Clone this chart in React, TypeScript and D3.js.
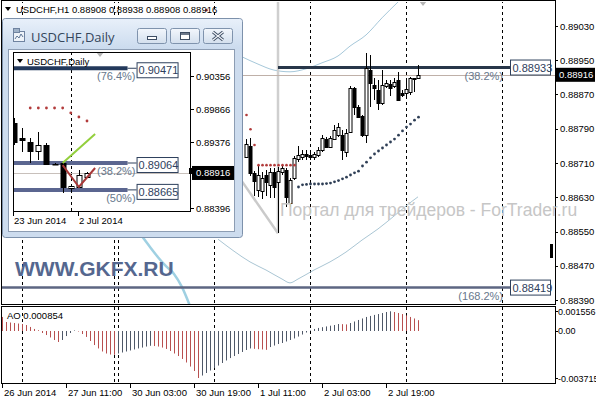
import React from 'react';
import * as d3 from 'd3';

const FONT = '"Liberation Sans", Arial, sans-serif';

// ---------- USDCHF H1 (bar 0 = first bar right of the Daily window, 4px per bar) ----------
const h1Open = [0.88724, 0.8875, 0.88687, 0.88647, 0.88645, 0.88682, 0.88659, 0.88689, 0.88666, 0.88689, 0.88694, 0.88617, 0.88675, 0.88719, 0.88724, 0.88731, 0.88729, 0.88724, 0.88729, 0.8874, 0.88766, 0.88747, 0.88766, 0.88775, 0.88775, 0.88736, 0.88782, 0.88885, 0.88841, 0.8882, 0.88775, 0.88927, 0.88892, 0.8888, 0.8885, 0.8889, 0.88895, 0.8889, 0.88904, 0.88873, 0.88873, 0.88876, 0.88906, 0.88908];
const h1High = [0.88766, 0.88768, 0.88692, 0.88705, 0.88689, 0.88694, 0.88698, 0.88698, 0.88701, 0.88705, 0.88698, 0.88675, 0.88726, 0.8875, 0.8874, 0.8874, 0.88736, 0.88736, 0.88747, 0.88775, 0.88771, 0.88773, 0.88799, 0.88803, 0.88787, 0.88789, 0.8889, 0.88887, 0.88845, 0.88822, 0.88967, 0.88962, 0.88909, 0.88904, 0.88927, 0.88904, 0.88904, 0.88909, 0.88922, 0.8888, 0.88904, 0.88911, 0.88909, 0.88938];
const h1Low = [0.88722, 0.8868, 0.88633, 0.88631, 0.88626, 0.88633, 0.88628, 0.88628, 0.88546, 0.88682, 0.88607, 0.88607, 0.8867, 0.88712, 0.88717, 0.88717, 0.88717, 0.88717, 0.88724, 0.88736, 0.88745, 0.88745, 0.88764, 0.88771, 0.88717, 0.88724, 0.8878, 0.88822, 0.88815, 0.88771, 0.88757, 0.88841, 0.88857, 0.88834, 0.88845, 0.88885, 0.88866, 0.88885, 0.88857, 0.88864, 0.88861, 0.88869, 0.88876, 0.88908];
const h1Close = [0.88754, 0.88687, 0.88668, 0.88682, 0.88675, 0.88666, 0.88689, 0.88654, 0.88691, 0.88698, 0.88631, 0.8867, 0.88722, 0.88729, 0.88731, 0.88726, 0.88724, 0.88731, 0.8874, 0.88768, 0.88747, 0.88768, 0.88787, 0.88794, 0.8874, 0.8878, 0.88885, 0.88841, 0.88817, 0.88775, 0.88932, 0.88897, 0.88885, 0.8885, 0.88892, 0.88897, 0.88885, 0.88899, 0.88857, 0.88869, 0.88883, 0.88909, 0.88909, 0.88916];

// Parabolic SAR
const sarUpBars = [-10, 0, 1, 2, 3, 4, 5, 6, 7, 8, 9, 10, 11, 12];
const sarUpVals = [0.89067, 0.88822, 0.88789, 0.88752, 0.88705, 0.88705, 0.88705, 0.88705, 0.88705, 0.88705, 0.88705, 0.88705, 0.88705, 0.88705];
const sarDownFirstBar = 13;
const sarDownVals = [0.88654, 0.88659, 0.8866, 0.88661, 0.88661, 0.88661, 0.88661, 0.88662, 0.88663, 0.88666, 0.88669, 0.88673, 0.88677, 0.88682, 0.88687, 0.88691, 0.88703, 0.88712, 0.88722, 0.88731, 0.88738, 0.88745, 0.88752, 0.88759, 0.88766, 0.88775, 0.88785, 0.88794, 0.88801, 0.8881, 0.88817];

// Bollinger envelope samples (bar, price)
const upperBandBars = [-1, 3, 7, 11, 15, 19, 23, 26, 30, 34, 38, 42];
const upperBandVals = [0.88958, 0.88941, 0.88927, 0.88923, 0.8893, 0.88944, 0.8896, 0.88983, 0.89009, 0.89049, 0.89086, 0.89121];
const lowerBandBars = [-7, -3, 1, 5, 9, 11, 13, 17, 21, 25, 29, 33, 37, 41, 43];
const lowerBandVals = [0.88532, 0.88504, 0.88479, 0.8846, 0.88439, 0.8843, 0.88439, 0.8846, 0.88479, 0.88502, 0.8853, 0.88556, 0.88586, 0.88617, 0.88631];
const maBars = [-26, -24, -22, -20, -18, -16, -14];
const maVals = [0.88539, 0.88514, 0.8849, 0.88469, 0.88451, 0.8842, 0.88376];

// Fibonacci expansion objects
const fibTrendBars = [-1, 8];
const fibTrendVals = [0.88667, 0.88546];
const fibLevels = [0.88933, 0.88419];
const fibLevelText = ['(38.2%)', '(168.2%)'];
const fibLevelFrom = [8, -62];
const fibLevelTo = 66;

// Period separators (bar index)
const separators = [-56, -33, -32, -8, 16, 40, 64];

// Axis labels
const priceTicks = [0.8903, 0.8895, 0.8887, 0.8879, 0.8871, 0.8863, 0.8855, 0.8847, 0.8839];
const bid = 0.88916;
const timeTickBars = [-61, -45, -29, -13, 3, 19, 35];
const timeTickLabels = ['26 Jun 2014', '27 Jun 11:00', '30 Jun 03:00', '30 Jun 19:00', '1 Jul 11:00', '2 Jul 03:00', '2 Jul 19:00'];

// Awesome Oscillator, first value at bar -61
const aoFirstBar = -61;
const aoVals = [0.00111, 0.00071, 0.00067, 0.00063, 0.00059, 0.00055, 0.00047, 0.00032, 0.00016, 0.00006, -0.00016, -0.00032, -0.00051, -0.00071, -0.00087, -0.00071, -0.0004, -0.00016, 0.00004, -0.00004, -0.00024, -0.00047, -0.00079, -0.00111, -0.00138, -0.00162, -0.00178, -0.00186, -0.00188, -0.00178, -0.0017, -0.00162, -0.00154, -0.00146, -0.00138, -0.00131, -0.00123, -0.00117, -0.00119, -0.00123, -0.00131, -0.00142, -0.00158, -0.00178, -0.00198, -0.00221, -0.00249, -0.00281, -0.00316, -0.003715, -0.00352, -0.00332, -0.00312, -0.00293, -0.00273, -0.00253, -0.00233, -0.00214, -0.00198, -0.00182, -0.00166, -0.0015, -0.00138, -0.00141, -0.00144, -0.00146, -0.00149, -0.00127, -0.00115, -0.00103, -0.00095, -0.00083, -0.00071, -0.00059, -0.00044, -0.00028, -0.00012, 0.00004, 0.00016, 0.00024, 0.0003, 0.00036, 0.00042, 0.00047, 0.00055, 0.00054, 0.00052, 0.00063, 0.00075, 0.00087, 0.00099, 0.00111, 0.00119, 0.00127, 0.00134, 0.00142, 0.0015, 0.001556, 0.0015, 0.00142, 0.00134, 0.00123, 0.00111, 0.00099, 0.000854];
const aoTicks = [0.001556, 0, -0.003715];
const aoTickLabels = ['0.001556', '0.00', '-0.003715'];

// ---------- USDCHF Daily ----------
const dOpen = [0.89658, 0.89435, 0.89376, 0.89242, 0.89331, 0.89049, 0.89064, 0.88693, 0.88708, 0.88856];
const dHigh = [0.89732, 0.89584, 0.89435, 0.89525, 0.89361, 0.89064, 0.89079, 0.88723, 0.8896, 0.88931];
const dLow = [0.89331, 0.89228, 0.89064, 0.89109, 0.89034, 0.89034, 0.88619, 0.88619, 0.88693, 0.88841];
const dClose = [0.89376, 0.89406, 0.89242, 0.89331, 0.89049, 0.89049, 0.88708, 0.88723, 0.88886, 0.88916];
const dSarBars = [2, 3, 4, 5, 6, 7, 8, 9];
const dSarVals = [0.89881, 0.89881, 0.89881, 0.89881, 0.89881, 0.89807, 0.89747, 0.89688];
const dPriceTicks = [0.90356, 0.89866, 0.89376, 0.88396];
const dFibLevels = [0.90471, 0.89064, 0.88665];
const dFibText = ['(76.4%)', '(38.2%)', '(50%)'];
const dFibColors = ['#23395b', '#5b6690', '#5b6690'];
const dFibTo = 14;
const dGreenBars = [6, 10];
const dGreenVals = [0.89064, 0.89495];
const dRedBars = [6, 8, 10];
const dRedVals = [0.89034, 0.88708, 0.8899];
const dSeparator = 7;
const dTimeBars = [0, 8];
const dTimeLabels = ['23 Jun 2014', '2 Jul 2014'];

const UP_AO = '#4f5868';
const DOWN_AO = '#b85050';

export default function App() {
  const x = d3.scaleLinear().domain([0, 43]).range([246, 418]);
  const y = d3.scaleLinear().domain([0.8839, 0.8903]).range([300, 26]);
  const yAO = d3.scaleLinear().domain([-0.003715, 0.001556]).range([378, 311.3]);
  const xd = d3.scaleLinear().domain([0, 9]).range([14, 87]);
  const yd = d3.scaleLinear().domain([0.88396, 0.90356]).range([208, 76]);

  const curve = d3.line<[number, number]>().x(d => x(d[0])).y(d => y(d[1])).curve(d3.curveMonotoneX);
  const pairs = (a: number[], b: number[]) => a.map((v, i) => [v, b[i]] as [number, number]);
  const dLine = d3.line<[number, number]>().x(d => xd(d[0])).y(d => yd(d[1]));

  const small = { fontFamily: FONT, fontSize: 9.5 } as const;

  return (
    <svg width={596} height={400} style={{ position: 'absolute', left: 0, top: 0, background: '#fff' }}>
      <defs>
        <clipPath id="mainClip"><rect x={2} y={2} width={553} height={302} /></clipPath>
        <clipPath id="aoClip"><rect x={2} y={307} width={553} height={76} /></clipPath>
        <clipPath id="dClip"><rect x={13} y={52} width={178} height={160} /></clipPath>
        <linearGradient id="titleGrad" x1="0" y1="0" x2="0" y2="1">
          <stop offset="0" stopColor="#e8f0fa" />
          <stop offset="1" stopColor="#cbdbee" />
        </linearGradient>
        <linearGradient id="btnGrad" x1="0" y1="0" x2="0" y2="1">
          <stop offset="0" stopColor="#f3f7fc" />
          <stop offset="1" stopColor="#d3dfed" />
        </linearGradient>
      </defs>
      <rect x={0} y={0} width={596} height={400} fill="#fff" />

      {/* ---------- price pane ---------- */}
      <g clipPath="url(#mainClip)">
        {separators.map((b, i) => (
          <line key={i} x1={Math.round(x(b)) + 0.5} x2={Math.round(x(b)) + 0.5} y1={0} y2={306} stroke="#000" strokeDasharray="3,3" />
        ))}
        <path d={curve(pairs(upperBandBars, upperBandVals)) || ''} fill="none" stroke="#a6c8da" strokeWidth={1} />
        <path d={curve(pairs(lowerBandBars, lowerBandVals)) || ''} fill="none" stroke="#aac6d4" strokeWidth={1} />
        <path d={curve(pairs(maBars, maVals)) || ''} fill="none" stroke="#9fd0e2" strokeWidth={2.5} />
        {/* fib expansion trend lines */}
        <line x1={x(fibTrendBars[0])} y1={y(fibTrendVals[0])} x2={x(fibTrendBars[1])} y2={y(fibTrendVals[1])} stroke="#cacaca" strokeWidth={2.5} />
        <line x1={x(fibTrendBars[1])} y1={y(fibTrendVals[1])} x2={x(fibTrendBars[1])} y2={0} stroke="#cfcfcf" strokeWidth={2.5} />
        {/* bid line */}
        <line x1={0} x2={555} y1={Math.round(y(bid)) + 0.5} y2={Math.round(y(bid)) + 0.5} stroke="#bfb0a8" strokeWidth={1} />
        {/* fib levels */}
        {fibLevels.map((lv, i) => {
          const yy = y(lv);
          const x0 = x(fibLevelFrom[i]);
          const x1 = x(fibLevelTo);
          return (
            <g key={i}>
              <line x1={x0} x2={x1} y1={yy} y2={yy} stroke={i === 0 ? '#273649' : '#5d6682'} strokeWidth={i === 0 ? 3 : 2.5} />
              <rect x={x1 + 0.5} y={yy - 7.5} width={40} height={15} fill="#fff" stroke="#2e405c" strokeWidth={1} />
              <text x={x1 + 2.5} y={yy + 4} fill="#2e405c" style={{ fontFamily: FONT, fontSize: 11 }}>{lv.toFixed(5)}</text>
              <text x={x1 - 7} y={yy + 12} textAnchor="end" fill="#67778c" style={{ fontFamily: FONT, fontSize: 11 }}>{fibLevelText[i]}</text>
            </g>
          );
        })}
        {/* candles */}
        {h1Open.map((o, i) => {
          const c = h1Close[i];
          const cx = Math.round(x(i)) + 0.5;
          const top = Math.round(y(Math.max(o, c)));
          const bot = Math.round(y(Math.min(o, c)));
          return (
            <g key={i}>
              <line x1={cx} x2={cx} y1={Math.round(y(h1High[i]))} y2={Math.round(y(h1Low[i]))} stroke="#000" />
              <rect x={cx - 1.5} y={top + 0.5} width={3} height={Math.max(bot - top, 0.5)} fill={c >= o ? '#fff' : '#000'} stroke="#000" strokeWidth={1} />
            </g>
          );
        })}
        {sarUpBars.map((b, i) => (
          <circle key={'u' + i} cx={x(b) + 0.5} cy={y(sarUpVals[i])} r={1.3} fill="#b23b3b" />
        ))}
        {sarDownVals.map((v, i) => (
          <circle key={'d' + i} cx={x(sarDownFirstBar + i) + 0.5} cy={y(v)} r={1.4} fill="#2e3e55" />
        ))}
        <path d="M419,1 L427,1 L423,6 Z" fill="#b5b5b5" />
        <rect x={550} y={244} width={3} height={14} fill="#000" />
        <text x={15} y={276} fill="#55678f" style={{ fontFamily: FONT, fontSize: 21, fontWeight: 700 }}>WWW.GKFX.RU</text>
      </g>

      {/* header */}
      <path d="M5,7 L11,7 L8,11 Z" fill="#000" />
      <text x={16} y={13} style={small}>USDCHF,H1  0.88908 0.88938 0.88908 0.88916</text>

      {/* pane frames */}
      <rect x={1.5} y={0.5} width={554} height={304} fill="none" stroke="#000" />
      <rect x={1.5} y={306.5} width={554} height={77} fill="none" stroke="#000" />

      {/* price axis */}
      {priceTicks.map((p, i) => (
        <g key={i}>
          <line x1={555} x2={558} y1={Math.round(y(p)) + 0.5} y2={Math.round(y(p)) + 0.5} stroke="#000" />
          <text x={560} y={y(p) + 3.5} style={small}>{p.toFixed(5)}</text>
        </g>
      ))}
      <rect x={556} y={y(bid) - 7} width={39} height={14} fill="#000" />
      <text x={559} y={y(bid) + 3.5} fill="#fff" style={small}>{bid.toFixed(5)}</text>

      {/* ---------- AO pane ---------- */}
      <g clipPath="url(#aoClip)">
        {separators.map((b, i) => (
          <line key={i} x1={Math.round(x(b)) + 0.5} x2={Math.round(x(b)) + 0.5} y1={307} y2={384} stroke="#000" strokeDasharray="3,3" />
        ))}
        {aoVals.map((v, k) => {
          const cx = Math.round(x(aoFirstBar + k)) + 0.5;
          const up = k > 0 && v > aoVals[k - 1];
          return <line key={k} x1={cx} x2={cx} y1={yAO(0)} y2={yAO(v)} stroke={up ? UP_AO : DOWN_AO} strokeWidth={1} />;
        })}
      </g>
      <text x={7} y={319} style={small}>AO 0.000854</text>
      {aoTicks.map((t, i) => (
        <g key={i}>
          <line x1={555} x2={558} y1={Math.round(yAO(t)) + 0.5} y2={Math.round(yAO(t)) + 0.5} stroke="#000" />
          <text x={558} y={yAO(t) + 3.5} style={{ fontFamily: FONT, fontSize: 9 }}>{aoTickLabels[i]}</text>
        </g>
      ))}

      {/* time axis */}
      {timeTickBars.map((b, i) => (
        <g key={i}>
          <line x1={Math.round(x(b)) + 0.5} x2={Math.round(x(b)) + 0.5} y1={384} y2={388} stroke="#000" />
          <text x={x(b) + 2} y={396} style={small}>{timeTickLabels[i]}</text>
        </g>
      ))}

      {/* watermark */}
      <text x={280} y={216} fill="#c6c6c6" style={{ fontFamily: FONT, fontSize: 17.5 }}>Портал для трейдеров - ForTrader.ru</text>

      {/* ---------- Daily window ---------- */}
      <g>
        <rect x={2.5} y={18.5} width={240} height={219} rx={3} fill="#cddcee" stroke="#7d91ab" />
        <rect x={3} y={19} width={239} height={30} rx={3} fill="url(#titleGrad)" />
        {/* icon */}
        <rect x={13.5} y={31.5} width={11} height={10} fill="#eef3f9" stroke="#6f83a0" />
        <rect x={13.5} y={28.5} width={6} height={4} fill="#9fb2c8" stroke="#6f83a0" />
        <path d="M15,39 L17,36 L19,38 L21,34 L23,37" fill="none" stroke="#5f7796" strokeWidth={1} />
        <text x={31} y={42} fill="#34465c" style={{ fontFamily: '"Open Sans", "Noto Sans", sans-serif', fontSize: 13 }}>USDCHF,Daily</text>
        {[137, 170, 203].map((bx, i) => (
          <rect key={i} x={bx + 0.5} y={28.5} width={29} height={15} rx={2} fill="url(#btnGrad)" stroke="#7f93ad" />
        ))}
        <rect x={147.5} y={36.5} width={9} height={3} fill="#fff" stroke="#3d4d63" />
        <rect x={180.5} y={32.5} width={9} height={7} fill="#fff" stroke="#3d4d63" strokeWidth={1} />
        <line x1={180.5} x2={189.5} y1={34} y2={34} stroke="#3d4d63" strokeWidth={1.5} />
        <path d="M213,32 L223,40 M223,32 L213,40" stroke="#3d4d63" strokeWidth={3} />
        <path d="M213,32 L223,40 M223,32 L213,40" stroke="#f4f7fb" strokeWidth={1.2} />

        <rect x={8.5} y={49.5} width={226} height={182} fill="#fff" stroke="#8d9db3" />

        <g clipPath="url(#dClip)">
          <line x1={Math.round(xd(dSeparator)) + 0.5} x2={Math.round(xd(dSeparator)) + 0.5} y1={52} y2={212} stroke="#000" strokeDasharray="3,3" />
          <line x1={13} x2={191} y1={Math.round(yd(bid)) + 0.5} y2={Math.round(yd(bid)) + 0.5} stroke="#c8c0bb" />
          {dFibLevels.map((lv, i) => (
            <line key={i} x1={13} x2={xd(dFibTo)} y1={yd(lv)} y2={yd(lv)} stroke={dFibColors[i]} strokeWidth={4} />
          ))}
          {dOpen.map((o, i) => {
            const c = dClose[i];
            const cx = Math.round(xd(i)) + 0.5;
            const top = Math.round(yd(Math.max(o, c)));
            const bot = Math.round(yd(Math.min(o, c)));
            return (
              <g key={i}>
                <line x1={cx} x2={cx} y1={Math.round(yd(dHigh[i]))} y2={Math.round(yd(dLow[i]))} stroke="#000" />
                <rect x={cx - 2.5} y={top + 0.5} width={5} height={Math.max(bot - top, 0.5)} fill={c >= o ? '#fff' : '#000'} stroke="#000" />
              </g>
            );
          })}
          {dSarBars.map((b, i) => (
            <circle key={i} cx={xd(b)} cy={yd(dSarVals[i])} r={1.4} fill="#b23b3b" />
          ))}
          <path d={dLine(pairs(dGreenBars, dGreenVals)) || ''} stroke="#93cf3c" strokeWidth={2} fill="none" />
          <path d={dLine(pairs(dRedBars, dRedVals)) || ''} stroke="#a83838" strokeWidth={2} fill="none" />
          <path d="M96,52 L104,52 L100,57 Z" fill="#b5b5b5" />
        </g>
        {dFibLevels.map((lv, i) => {
          const yy = yd(lv);
          const x1 = xd(dFibTo);
          return (
            <g key={i}>
              <line x1={x1} x2={x1 + 9} y1={yy} y2={yy} stroke="#2e405c" strokeWidth={1} />
              <rect x={x1 + 9.5} y={yy - 5.5} width={41} height={15} fill="#fff" stroke="#2e405c" />
              <text x={x1 + 11} y={yy + 6} fill="#2e405c" style={{ fontFamily: FONT, fontSize: 11 }}>{lv.toFixed(5)}</text>
              <text x={x1 + 8} y={yy + 12} textAnchor="end" fill="#67778c" style={{ fontFamily: FONT, fontSize: 11 }}>{dFibText[i]}</text>
            </g>
          );
        })}
        <rect x={13.5} y={52.5} width={177} height={159} fill="none" stroke="#000" />
        <path d="M17,59 L23,59 L20,63 Z" fill="#000" />
        <text x={27} y={65} style={small}>USDCHF,Daily</text>
        <rect x={189} y={168} width={3} height={6} fill="#000" />
        {dPriceTicks.map((p, i) => (
          <g key={i}>
            <line x1={191} x2={194} y1={Math.round(yd(p)) + 0.5} y2={Math.round(yd(p)) + 0.5} stroke="#000" />
            <text x={196} y={yd(p) + 3.5} style={small}>{p.toFixed(5)}</text>
          </g>
        ))}
        <rect x={192} y={yd(bid) - 7} width={42} height={14} fill="#000" />
        <text x={196} y={yd(bid) + 3.5} fill="#fff" style={small}>{bid.toFixed(5)}</text>
        {dTimeBars.map((b, i) => (
          <g key={i}>
            <line x1={Math.round(xd(b)) - 0.5} x2={Math.round(xd(b)) - 0.5} y1={212} y2={216} stroke="#000" />
            <text x={xd(b)} y={224} style={small}>{dTimeLabels[i]}</text>
          </g>
        ))}
      </g>
    </svg>
  );
}
